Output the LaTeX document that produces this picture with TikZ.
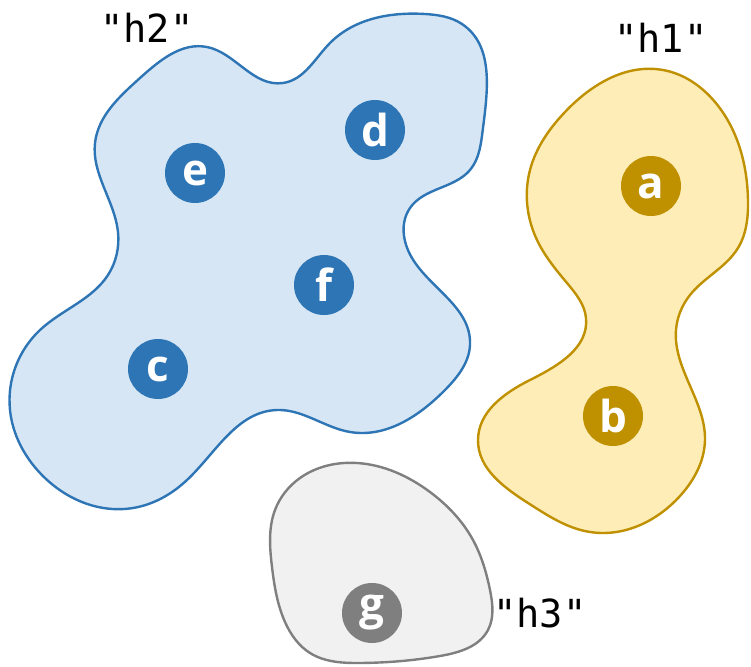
\documentclass[tikz,border=0pt]{standalone}
\usepackage{fontspec}
\usetikzlibrary{hobby}
\newfontfamily\nodefont{Open Sans}
\newfontfamily\labfont{DejaVu Sans Mono}
\definecolor{bstroke}{HTML}{2E75B6}
\definecolor{bfill}{HTML}{D7E6F4}
\definecolor{ystroke}{HTML}{BF9000}
\definecolor{yfill}{HTML}{FFEDB7}
\definecolor{gstroke}{HTML}{7F7F7F}
\definecolor{gfill}{HTML}{F1F1F1}
\tikzset{
  vert/.style={circle, minimum size=45pt, inner sep=0pt, text=white,
    font=\nodefont\bfseries\fontsize{33}{33}\selectfont},
  blob/.style={line width=1.8pt, use Hobby shortcut, closed=true},
  lab/.style={anchor=base, font=\labfont\fontsize{29}{29}\selectfont}
}
\begin{document}
\begin{tikzpicture}[x=0.75pt,y=-0.75pt]
\useasboundingbox (0,0) rectangle (751,667);
\draw[blob, draw=bstroke, fill=bfill]
 (207,47) .. (283,83) .. (330,43) .. (425,14) .. (462,24) .. (483,128)
 .. (470,170) .. (410,208) .. (412,258) .. (470,345) .. (445,390) .. (350,432)
 .. (277,410) .. (187,480) .. (133,508) .. (40,473) .. (10,410) .. (40,330)
 .. (108,275) .. (118,232) .. (95,143) .. (140,78);
\draw[blob, draw=ystroke, fill=yfill]
 (663,70) .. (715,102) .. (748,200) .. (738,248) .. (690,295) .. (676,330)
 .. (705,440) .. (680,496) .. (590,532) .. (528,503) .. (478,440) .. (530,380)
 .. (586,318) .. (567,283) .. (537,240) .. (530,170) .. (565,112);
\draw[blob, draw=gstroke, fill=gfill]
 (357,463) .. (430,492) .. (473,540) .. (490,590) .. (488,630) .. (440,656)
 .. (360,663) .. (310,653) .. (285,622) .. (272,567) .. (275,510) .. (300,478);
\node[vert, fill=bstroke] (d) at (375,130) {d};
\node[vert, fill=bstroke] (e) at (195,173) {e};
\node[vert, fill=bstroke] (f) at (324,285) {f};
\node[vert, fill=bstroke] (c) at (158,369) {c};
\node[vert, fill=ystroke] (a) at (651,186) {a};
\node[vert, fill=ystroke] (b) at (613,416) {b};
\node[vert, fill=gstroke] (g) at (372,613) {g};
\node[lab] (h2) at (147,43) {"h2"};
\node[lab] (h1) at (661,53) {"h1"};
\node[lab] (h3) at (540,627) {"h3"};
\end{tikzpicture}
\end{document}
